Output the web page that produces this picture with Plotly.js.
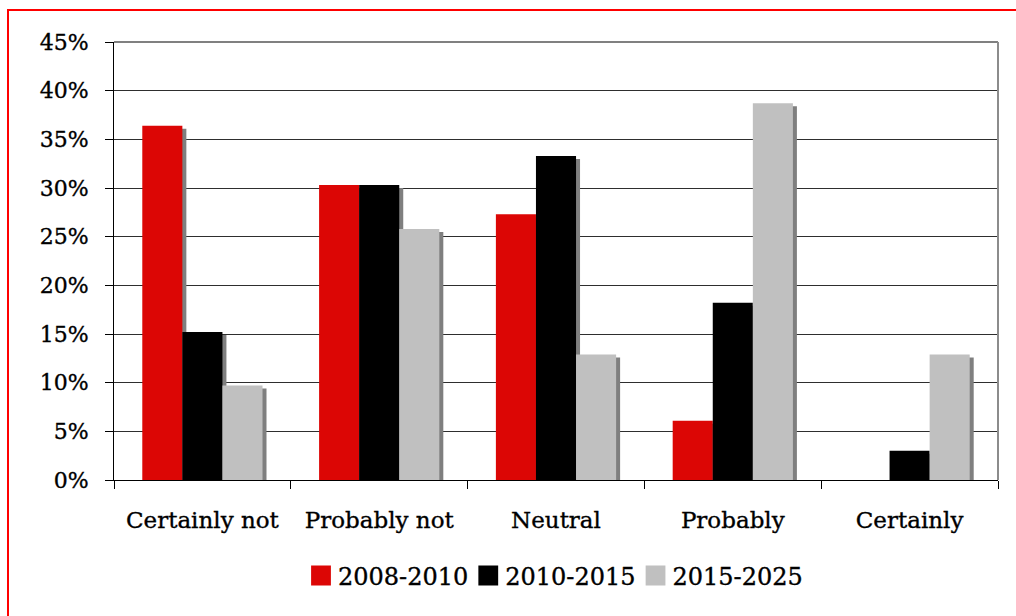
<!DOCTYPE html>
<html>
<head>
<meta charset="utf-8">
<script src="https://cdn.plot.ly/plotly-3.0.1.min.js"></script>
<style>
  html, body { margin: 0; padding: 0; background: #fff; overflow: hidden; }
  #frame { position: absolute; left: 7px; top: 9px; width: 1030px; height: 640px;
           border: 2px solid #ff0000; box-sizing: border-box; pointer-events: none; z-index: 5; }
  #chart { width: 1016px; height: 616px; }
  /* offset drop shadow under each bar */
  #chart .barlayer .point path { filter: drop-shadow(4px 3px 0 #7f7f7f); }
  /* slightly heavier serif text */
  #chart .xtick text, #chart .ytick text, #chart .legendtext { stroke: #000; stroke-width: 0.35px; }
</style>
</head>
<body>
<div id="frame"></div>
<div id="chart"></div>
<script>
// Answers per category, share of respondents (%)
const categories = ['Certainly not', 'Probably not', 'Neutral', 'Probably', 'Certainly'];
const period2008 = [36.4, 30.3, 27.3, 6.1, 0];
const period2010 = [15.2, 30.3, 33.3, 18.2, 3.0];
const period2015 = [9.7, 25.8, 12.9, 38.7, 12.9];
const seriesNames = ['2008-2010', '2010-2015', '2015-2025'];
const seriesColors = ['#dc0605', '#000000', '#c0c0c0'];
const yTickValues = [0, 5, 10, 15, 20, 25, 30, 35, 40, 45];
const yTickLabels = ['0%', '5%', '10%', '15%', '20%', '25%', '30%', '35%', '40%', '45%'];

const seriesValues = [period2008, period2010, period2015];
const traces = seriesValues.map((vals, i) => ({
  type: 'bar',
  name: seriesNames[i],
  x: categories,
  y: vals,
  marker: { color: seriesColors[i], line: { width: 0 } },
  hoverinfo: 'skip'
}));

const serif = 'DejaVu Serif, Liberation Serif, serif';

const layout = {
  width: 1016,
  height: 616,
  margin: { l: 114, r: 18, t: 42, b: 136 },
  paper_bgcolor: '#ffffff',
  plot_bgcolor: '#ffffff',
  barmode: 'group',
  bargap: 0.32,
  bargroupgap: 0,
  showlegend: true,
  legend: {
    orientation: 'h',
    x: 0.5, xanchor: 'center',
    y: -0.219, yanchor: 'middle',
    font: { family: serif, size: 24, color: '#000' },
    itemclick: false,
    traceorder: 'normal'
  },
  xaxis: {
    type: 'category',
    tickson: 'boundaries',
    ticks: 'outside',
    ticklen: 8,
    tickcolor: '#000',
    tickwidth: 1,
    showline: true,
    linecolor: '#000',
    linewidth: 1,
    showgrid: false,
    ticklabelstandoff: 19,
    tickfont: { family: serif, size: 23, color: '#000' }
  },
  yaxis: {
    range: [0, 45],
    tickvals: yTickValues,
    ticktext: yTickLabels,
    ticks: 'outside',
    ticklen: 8,
    tickcolor: '#000',
    showline: true,
    linecolor: '#000',
    linewidth: 1,
    showgrid: true,
    gridcolor: '#2e2e2e',
    gridwidth: 1,
    zeroline: false,
    ticklabelstandoff: 12,
    tickfont: { family: serif, size: 22, color: '#000' }
  },
  shapes: [
    { type: 'line', xref: 'paper', yref: 'paper', x0: 0, x1: 1, y0: 1, y1: 1,
      line: { color: '#808080', width: 2 } },
    { type: 'line', xref: 'paper', yref: 'paper', x0: 1, x1: 1, y0: 0, y1: 1,
      line: { color: '#8c8c8c', width: 2 } }
  ]
};

Plotly.newPlot('chart', traces, layout, { displayModeBar: false, staticPlot: true }).then(gd => {
  // enlarge the legend swatches and pull the labels closer to them
  gd.querySelectorAll('.legend .legendpoints path').forEach(p => {
    const t = p.getAttribute('transform') || '';
    p.setAttribute('transform', t + ' scale(1.65)');
  });
  gd.querySelectorAll('.legend .legendtext').forEach(t => {
    const x = parseFloat(t.getAttribute('x') || '0');
    t.setAttribute('x', x - 3);
  });
  // tighten the spacing between legend entries, keeping the row centred
  const items = gd.querySelectorAll('.legend .traces');
  const squeeze = 8;
  const mid = (items.length - 1) / 2;
  items.forEach((g, i) => {
    const m = /translate\(\s*([-\d.]+)[ ,]+([-\d.]+)\s*\)/.exec(g.getAttribute('transform') || '');
    if (m) {
      const nx = parseFloat(m[1]) - squeeze * (i - mid);
      g.setAttribute('transform', 'translate(' + nx + ',' + m[2] + ')');
    }
  });
});
</script>
</body>
</html>
